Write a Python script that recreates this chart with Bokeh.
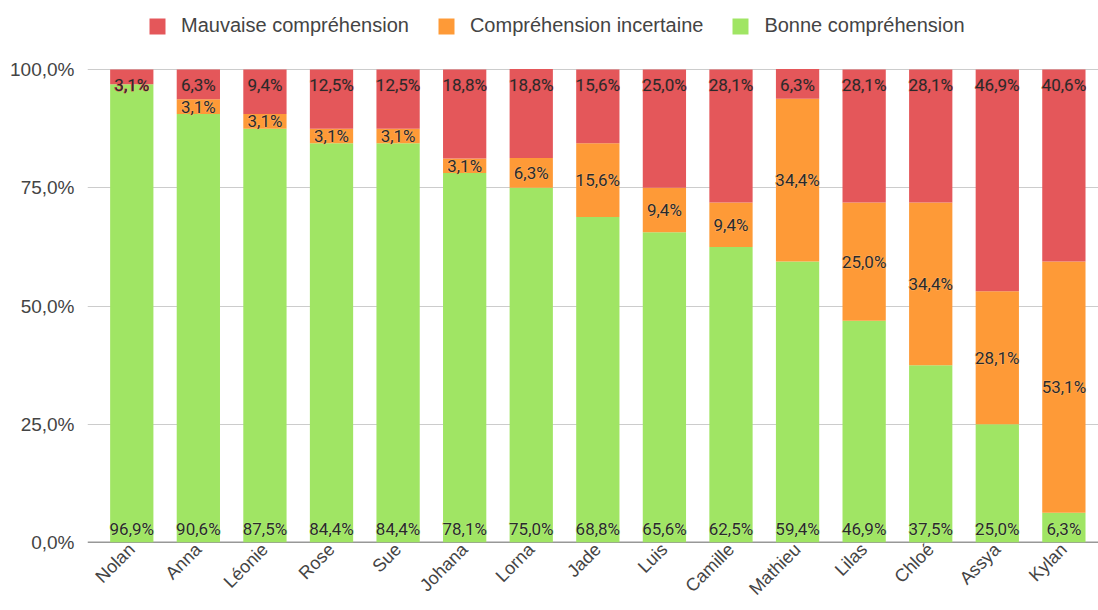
import math
from bokeh.plotting import figure
from bokeh.models import ColumnDataSource, Range1d, FixedTicker, Legend, LegendItem, Span
from bokeh.embed import file_html
from bokeh.resources import INLINE
from bokeh.core.properties import value

names = ["Nolan", "Anna", "Léonie", "Rose", "Sue", "Johana", "Lorna", "Jade",
         "Luis", "Camille", "Mathieu", "Lilas", "Chloé", "Assya", "Kylan"]
bonne = [96.9, 90.6, 87.5, 84.4, 84.4, 78.1, 75.0, 68.8, 65.6, 62.5, 59.4, 46.9, 37.5, 25.0, 6.3]
incertaine = [0.0, 3.1, 3.1, 3.1, 3.1, 3.1, 6.3, 15.6, 9.4, 9.4, 34.4, 25.0, 34.4, 28.1, 53.1]
mauvaise = [3.1, 6.3, 9.4, 12.5, 12.5, 18.8, 18.8, 15.6, 25.0, 28.1, 6.3, 28.1, 28.1, 46.9, 40.6]
y_ticks = [0, 25, 50, 75, 100]
y_tick_labels = ["0,0%", "25,0%", "50,0%", "75,0%", "100,0%"]
series = ["Mauvaise compréhension", "Compréhension incertaine", "Bonne compréhension"]

RED, ORANGE, GREEN = "#E4575A", "#FE9A37", "#A0E564"
FONT = "Liberation Sans"
LABEL_FONT = "Roboto"

def fmt(v):
    return f"{v:.1f}".replace(".", ",") + "%"

xs = list(range(len(names)))
g_top = bonne
o_top = [b + i for b, i in zip(bonne, incertaine)]
r_top = [o + m for o, m in zip(o_top, mauvaise)]

src = ColumnDataSource(dict(x=xs, zero=[0] * len(xs), g_top=g_top, o_top=o_top, r_top=r_top))

# frame spans from canvas top (y=0) to the baseline at 542px; 100% sits at 69px
FRAME_H = 542
PLOT_H = 473
Y_END = 100 * FRAME_H / PLOT_H

p = figure(width=1098, height=610, output_backend="svg", toolbar_location=None,
           x_range=Range1d(-0.665, 14.52), y_range=Range1d(0, Y_END),
           min_border_left=87, min_border_right=0, min_border_top=0, min_border_bottom=68)
p.outline_line_color = None
p.background_fill_color = "white"

p.xgrid.grid_line_color = None
p.ygrid.ticker = FixedTicker(ticks=y_ticks[1:])
p.ygrid.grid_line_color = "#cccccc"
p.ygrid.grid_line_width = 1

p.add_layout(Span(location=0, dimension="width", line_color="#333333", line_width=1.3, level="underlay"))

W = 0.65
r_g = p.vbar(x="x", bottom="zero", top="g_top", width=W, source=src, fill_color=GREEN, line_color=None)
r_o = p.vbar(x="x", bottom="g_top", top="o_top", width=W, source=src, fill_color=ORANGE, line_color=None)
r_r = p.vbar(x="x", bottom="o_top", top="r_top", width=W, source=src, fill_color=RED, line_color=None)

# labels
g_src = ColumnDataSource(dict(x=xs, y=[0] * len(xs), t=[fmt(v) for v in bonne]))
o_idx = [i for i, v in enumerate(incertaine) if v > 0]
o_src = ColumnDataSource(dict(x=o_idx, y=[bonne[i] + incertaine[i] / 2 for i in o_idx],
                              t=[fmt(incertaine[i]) for i in o_idx]))
r_src = ColumnDataSource(dict(x=xs, y=r_top, t=[fmt(v) for v in mauvaise]))

common = dict(text="t", text_align="center", text_baseline="middle",
              text_font=value(LABEL_FONT), text_font_size="17px")
for s, off, halo in [(g_src, -14, "#b6ee84"), (o_src, 0, "#ffb064"), (r_src, 15.7, "#da5154")]:
    p.text(x="x", y="y", source=s, y_offset=off, text_color=halo, text_outline_color=halo, **common)
    p.text(x="x", y="y", source=s, y_offset=off, text_color="#2a2a2a", **common)

# axes
p.yaxis.ticker = FixedTicker(ticks=y_ticks)
p.yaxis.major_label_overrides = {t: l for t, l in zip(y_ticks, y_tick_labels)}
p.yaxis.axis_line_color = None
p.yaxis.major_tick_line_color = None
p.yaxis.minor_tick_line_color = None
p.yaxis.major_tick_out = 0
p.yaxis.major_tick_in = 0
p.yaxis.major_label_standoff = 13
p.yaxis.major_label_text_font = FONT
p.yaxis.major_label_text_font_size = "19px"
p.yaxis.major_label_text_color = "#444444"

p.xaxis.ticker = FixedTicker(ticks=xs)
p.xaxis.major_label_overrides = {i: n for i, n in enumerate(names)}
p.xaxis.axis_line_color = None
p.xaxis.major_tick_line_color = None
p.xaxis.minor_tick_line_color = None
p.xaxis.major_tick_out = 0
p.xaxis.major_tick_in = 0
p.xaxis.major_label_standoff = 4
p.xaxis.major_label_orientation = math.pi / 4
p.xaxis.major_label_text_font = FONT
p.xaxis.major_label_text_font_size = "18px"
p.xaxis.major_label_text_color = "#444444"

legend = Legend(items=[LegendItem(label=series[0], renderers=[r_r]),
                       LegendItem(label=series[1], renderers=[r_o]),
                       LegendItem(label=series[2], renderers=[r_g])],
                orientation="horizontal", location=(60, FRAME_H - 37),
                glyph_width=20, glyph_height=20, label_height=20, label_standoff=14,
                spacing=27, padding=0, margin=0, border_line_color=None,
                background_fill_alpha=0, label_text_font=FONT,
                label_text_font_size="20px", label_text_color="#444444",
                label_text_baseline="middle")
p.add_layout(legend)

open("out.html", "w").write(file_html(p, INLINE))
